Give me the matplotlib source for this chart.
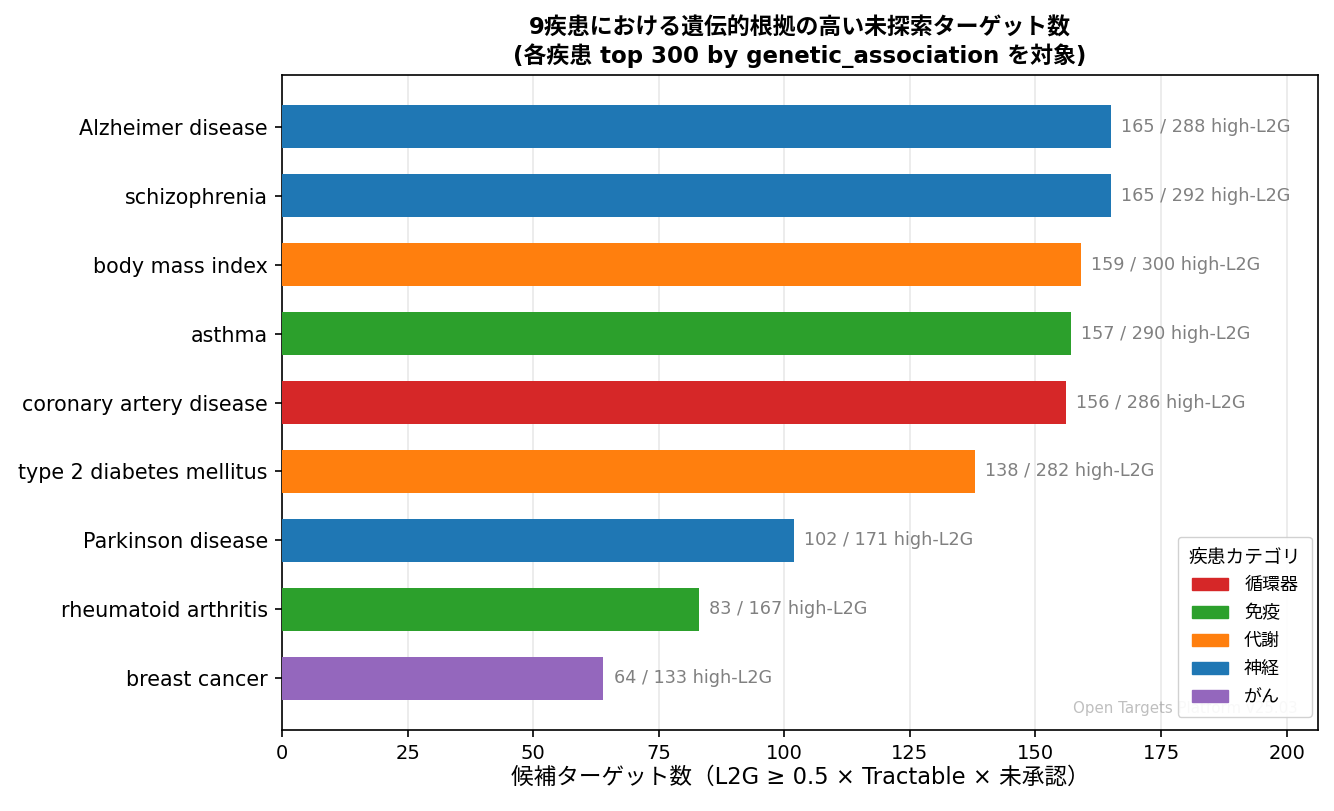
import matplotlib
matplotlib.use("Agg")
import matplotlib.pyplot as plt
from matplotlib.patches import Patch

plt.rcParams['font.family'] = ['DejaVu Sans', 'Noto Sans CJK JP']
plt.rcParams['axes.linewidth'] = 1.2
plt.rcParams['xtick.major.size'] = 5.25
plt.rcParams['ytick.major.size'] = 5.25
plt.rcParams['xtick.major.width'] = 1.2
plt.rcParams['ytick.major.width'] = 1.2
plt.rcParams['xtick.major.pad'] = 5.0
plt.rcParams['ytick.major.pad'] = 5.0

diseases = ["Alzheimer disease", "schizophrenia", "body mass index", "asthma",
            "coronary artery disease", "type 2 diabetes mellitus", "Parkinson disease",
            "rheumatoid arthritis", "breast cancer"]
candidates = [165, 165, 159, 157, 156, 138, 102, 83, 64]
high_l2g = [288, 292, 300, 290, 286, 282, 171, 167, 133]
categories = ["神経", "神経", "代謝", "免疫", "循環器", "代謝", "神経", "免疫", "がん"]

cat_order = ["循環器", "免疫", "代謝", "神経", "がん"]
cat_colors = {"循環器": "#d62728", "免疫": "#2ca02c", "代謝": "#ff7f0e",
              "神経": "#1f77b4", "がん": "#9467bd"}

fig = plt.figure(figsize=(13.34, 8.11), dpi=100)
ax = fig.add_axes([282/1334, 1-730/811, (1318-282)/1334, (730-75)/811])

ypos = list(range(len(diseases)))
colors = [cat_colors[c] for c in categories]
ax.barh(ypos, candidates, height=0.63, color=colors, zorder=3)
ax.set_yticks(ypos)
ax.set_yticklabels(diseases, fontsize=14.9)
ax.invert_yaxis()
ax.set_xlim(0, max(candidates) * 1.25)
ax.tick_params(axis='x', labelsize=14)
ax.grid(axis='x', color='#dddddd', alpha=0.7, linewidth=1.1, zorder=0)
ax.set_axisbelow(True)

for y, v, h in zip(ypos, candidates, high_l2g):
    ax.text(v + 2, y, f"{v} / {h} high-L2G", va='center', ha='left',
            fontsize=12.7, color='gray')

ax.set_xlabel("候補ターゲット数（L2G ≥ 0.5 × Tractable × 未承認）", fontsize=16.3,
              labelpad=2)
ax.set_title("9疾患における遺伝的根拠の高い未探索ターゲット数\n(各疾患 top 300 by genetic_association を対象)",
             fontsize=16.5, fontweight='bold', pad=9, linespacing=1.15)

handles = [Patch(color=cat_colors[c], label=c) for c in cat_order]
leg = ax.legend(handles=handles, title="疾患カテゴリ", loc='lower right',
                bbox_to_anchor=((1312-282)/1036, (730-717)/655), borderaxespad=0,
                fontsize=13, title_fontsize=13.5, framealpha=0.9,
                labelspacing=0.55, borderpad=0.6, handletextpad=0.9)

ax.text(0.98, 0.021, "Open Targets Platform v25.03", transform=ax.transAxes,
        ha='right', va='bottom', fontsize=10.8, color='gray', alpha=0.5)

fig.savefig("out.png", dpi=100)
